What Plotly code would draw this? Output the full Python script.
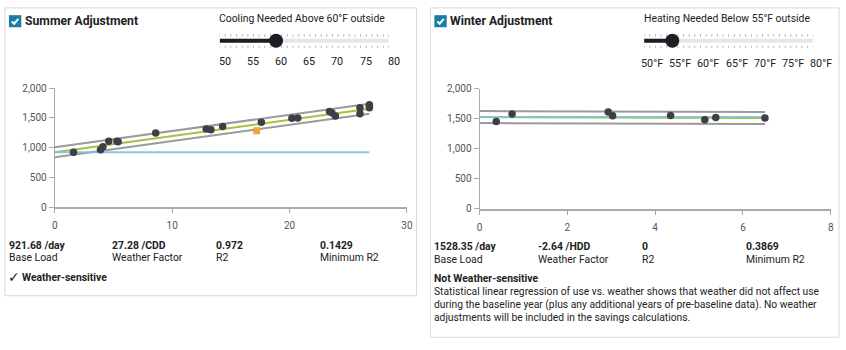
import plotly.graph_objects as go

W, H = 846, 350

# ---------------- data ----------------
summer_cdd = [1.6, 3.9, 4.1, 4.6, 5.3, 5.4, 8.6, 12.9, 13.3, 14.3, 17.6, 20.2, 20.7,
              23.4, 23.6, 23.9, 26.0, 26.0, 26.8, 26.8, 26.8]
summer_use = [924, 965, 1015, 1105, 1105, 1100, 1245, 1314, 1300, 1355, 1427, 1495, 1497,
              1608, 1585, 1530, 1668, 1568, 1722, 1700, 1668]
summer_excluded_x = [17.2]
summer_excluded_y = [1285]
summer_base = 921.68
summer_factor = 27.28
summer_band = 85
summer_stats = ["921.68 /day", "27.28 /CDD", "0.972", "0.1429"]

winter_hdd = [0.38, 0.74, 2.93, 3.03, 4.35, 5.13, 5.38, 6.50]
winter_use = [1453, 1580, 1612, 1550, 1553, 1485, 1522, 1512]
winter_base = 1528.35
winter_factor = -2.64
winter_band = 100
winter_stats = ["1528.35 /day", "-2.64 /HDD", "0", "0.3869"]

stat_labels = ["Base Load", "Weather Factor", "R2", "Minimum R2"]

slider_min, slider_max, slider_step = 50, 80, 5
cooling_threshold = 60
heating_threshold = 55
summer_slider_labels = ["50", "55", "60", "65", "70", "75", "80"]
winter_slider_labels = ["50°F", "55°F", "60°F", "65°F", "70°F", "75°F", "80°F"]

# ---------------- helpers ----------------
def px(x):
    return x / W

def py(y):
    return 1 - y / H

TEXT = "#222222"
FONT = "Roboto"
FS = 10.4
POINT = "#3e3e46"
GREY = "#9a9a9a"
GREEN = "#a6c23c"
BLUE = "#80c3d9"

fig = go.Figure()

def add_chart(xs, ys, base, factor, band, xa, ya):
    xe = max(xs)
    fx = [0, xe]
    fig.add_trace(go.Scatter(x=fx, y=[base + band + factor * v for v in fx], mode="lines",
                             line=dict(color=GREY, width=2), xaxis=xa, yaxis=ya, hoverinfo="skip"))
    fig.add_trace(go.Scatter(x=fx, y=[base - band + factor * v for v in fx], mode="lines",
                             line=dict(color=GREY, width=2), xaxis=xa, yaxis=ya, hoverinfo="skip"))
    fig.add_trace(go.Scatter(x=fx, y=[base + factor * v for v in fx], mode="lines",
                             line=dict(color=GREEN, width=2), xaxis=xa, yaxis=ya))
    fig.add_trace(go.Scatter(x=fx, y=[base, base], mode="lines",
                             line=dict(color=BLUE, width=2), opacity=0.9, xaxis=xa, yaxis=ya))
    fig.add_trace(go.Scatter(x=xs, y=ys, mode="markers",
                             marker=dict(color=POINT, size=7.5), xaxis=xa, yaxis=ya))

add_chart(summer_cdd, summer_use, summer_base, summer_factor, summer_band, "x", "y")
fig.add_trace(go.Scatter(x=summer_excluded_x, y=summer_excluded_y, mode="markers",
                         marker=dict(color="#f2a33a", size=7, symbol="square"),
                         xaxis="x", yaxis="y"))
add_chart(winter_hdd, winter_use, winter_base, winter_factor, winter_band, "x2", "y2")

# ---------------- sliders ----------------
def add_slider(value, xa, ya):
    tx, ty = [], []
    for t in range(slider_min, slider_max + 1):
        tx += [t, t, None, t, t, None]
        ty += [0.4, 0.7, None, -0.5, -0.75, None]
    fig.add_trace(go.Scatter(x=tx, y=ty, mode="lines", line=dict(color="#bdbdbd", width=1),
                             xaxis=xa, yaxis=ya, hoverinfo="skip"))
    fig.add_trace(go.Scatter(x=[slider_min, slider_max], y=[0, 0], mode="lines",
                             line=dict(color="#e6e6e6", width=4), xaxis=xa, yaxis=ya))
    fig.add_trace(go.Scatter(x=[slider_min, value], y=[0, 0], mode="lines",
                             line=dict(color="#1d1d24", width=4), xaxis=xa, yaxis=ya))
    fig.add_trace(go.Scatter(x=[value], y=[0], mode="markers",
                             marker=dict(color="#1d1d24", size=14), xaxis=xa, yaxis=ya))

add_slider(cooling_threshold, "x3", "y3")
add_slider(heating_threshold, "x4", "y4")

ann = []

def text(x, y, s, size=FS, bold=False, color=TEXT, anchor="left", family=FONT, **kw):
    d = dict(x=px(x), y=py(y), xref="paper", yref="paper", text=("<b>%s</b>" % s) if bold else s,
             showarrow=False, xanchor=anchor, yanchor="middle", xshift=-2,
             font=dict(family=family, size=size, color=color))
    d.update(kw)
    ann.append(d)

ticks_vals = list(range(slider_min, slider_max + 1, slider_step))
for v, lab in zip(ticks_vals, summer_slider_labels):
    ann.append(dict(x=v, y=py(57), xref="x3", yref="paper", text=lab, showarrow=False,
                    xanchor="center", yanchor="middle", xshift=5,
                    font=dict(family=FONT, size=10.8, color=TEXT)))
for v, lab in zip(ticks_vals, winter_slider_labels):
    ann.append(dict(x=v, y=py(60), xref="x4", yref="paper", text=lab, showarrow=False,
                    xanchor="center", yanchor="middle", xshift=8,
                    font=dict(family=FONT, size=10.8, color=TEXT)))

# headers
text(22, 15.5, "Summer Adjustment", size=12.2, bold=True)
text(452, 15.5, "Winter Adjustment", size=12.2, bold=True)
text(218.5, 12.5, "Cooling Needed Above %d°F outside" % cooling_threshold)
text(647.5, 13, "Heating Needed Below %d°F outside" % heating_threshold)

# stats
cols = [6, 110.5, 215.5, 320.5]
for cx, v, l in zip(cols, summer_stats, stat_labels):
    text(cx, 247.5, v, bold=True)
    text(cx, 260.5, l)
text(5, 281, "✓", size=14, family="DejaVu Sans")
text(19.5, 281, "Weather-sensitive", bold=True)
for cx, v, l in zip(cols, winter_stats, stat_labels):
    text(cx + 430, 249, v, bold=True)
    text(cx + 430, 262, l)
text(435.5, 282, "Not Weather-sensitive", bold=True)
para = ["Statistical linear regression of use vs. weather shows that weather did not affect use",
        "during the baseline year (plus any additional years of pre-baseline data). No weather",
        "adjustments will be included in the savings calculations."]
for i, line in enumerate(para):
    text(435.5, 296 + 13.4 * i, line, size=10.3)

# shapes: panels and checkboxes
shapes = []
for (x0, y0, x1, y1) in [(2, 2, 418, 300), (432, 2, 845, 343)]:
    shapes.append(dict(type="rect", xref="paper", yref="paper", x0=px(x0), x1=px(x1),
                       y0=py(y1), y1=py(y0), line=dict(color="#d8d8d8", width=1), layer="below"))
for bx in [6, 436]:
    shapes.append(dict(type="rect", xref="paper", yref="paper", x0=px(bx), x1=px(bx + 12.5),
                       y0=py(22), y1=py(9.5), fillcolor="#1b7ca6", line=dict(width=0)))
    shapes.append(dict(type="path", xref="paper", yref="paper",
                       path="M %f %f L %f %f L %f %f" % (px(bx + 3), py(16), px(bx + 5.3), py(18.3),
                                                        px(bx + 9.5), py(13.3)),
                       line=dict(color="white", width=2)))

axis_common = dict(showgrid=False, zeroline=False, showline=True, ticks="outside",
                   tickfont=dict(family=FONT, size=10, color="#555555"), fixedrange=True)

fig.update_layout(
    width=W, height=H, margin=dict(l=0, r=0, t=0, b=0),
    paper_bgcolor="white", plot_bgcolor="white", showlegend=False,
    xaxis=dict(domain=[px(52.3), px(408.3)], range=[0, 30], dtick=10, anchor="y",
               linecolor="#aaaaaa", linewidth=2, tickcolor="#aaaaaa", ticklen=4,
               ticklabelstandoff=4, **axis_common),
    yaxis=dict(domain=[py(208.3), py(85)], range=[0, 2000], dtick=500, tickformat=",", anchor="x",
               linecolor="#aaaaaa", linewidth=1, tickcolor="#aaaaaa", ticklen=5, **axis_common),
    xaxis2=dict(domain=[px(481.7), px(836.7)], range=[0, 8], dtick=2, anchor="y2",
                linecolor="#aaaaaa", linewidth=2, tickcolor="#aaaaaa", ticklen=4,
                ticklabelstandoff=4, **axis_common),
    yaxis2=dict(domain=[py(210), py(85.7)], range=[0, 2000], dtick=500, tickformat=",", anchor="x2",
                linecolor="#aaaaaa", linewidth=1, tickcolor="#aaaaaa", ticklen=5, **axis_common),
    xaxis3=dict(domain=[px(219), px(390)], range=[slider_min, slider_max], visible=False, anchor="y3",
                fixedrange=True),
    yaxis3=dict(domain=[py(46), py(26)], range=[-1, 1], visible=False, anchor="x3", fixedrange=True),
    xaxis4=dict(domain=[px(648), px(819)], range=[slider_min, slider_max], visible=False, anchor="y4",
                fixedrange=True),
    yaxis4=dict(domain=[py(46), py(26)], range=[-1, 1], visible=False, anchor="x4", fixedrange=True),
    annotations=ann, shapes=shapes,
)

fig.write_html("out.html", config={"displayModeBar": False})
